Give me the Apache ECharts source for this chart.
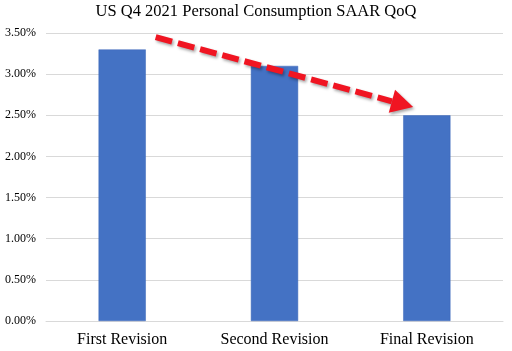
<!DOCTYPE html>
<html><head><meta charset="utf-8">
<script src="https://cdn.jsdelivr.net/npm/echarts@6/dist/echarts.min.js"></script>
<style>html,body{margin:0;padding:0;background:#fff}#c{width:512px;height:351px}</style>
</head><body><div id="c"></div>
<script>
const categories = ['First Revision', 'Second Revision', 'Final Revision'];
const values = [3.3, 3.1, 2.5];
const yTicks = [0, 0.5, 1, 1.5, 2, 2.5, 3, 3.5];
// arrow annotation in data space: [category position, value]
const arrowStart = [0.22, 3.45];
const arrowEnd = [1.91, 2.6];

const chart = echarts.init(document.getElementById('c'));
const serif = 'Liberation Serif';
chart.setOption({
  animation: false,
  title: { text: 'US Q4 2021 Personal Consumption SAAR QoQ', left: 'center', top: -2,
    textStyle: { fontFamily: serif, fontSize: 16.5, fontWeight: 'normal', color: '#000' } },
  grid: { left: 46, right: 9, top: 33, bottom: 30 },
  xAxis: { type: 'category', data: categories,
    axisLine: { lineStyle: { color: '#d9d9d9' } }, axisTick: { show: false },
    axisLabel: { fontFamily: serif, fontSize: 16, color: '#000', margin: 11 } },
  yAxis: { type: 'value', min: yTicks[0], max: yTicks[yTicks.length - 1], interval: 0.5,
    splitLine: { lineStyle: { color: '#d9d9d9' } },
    axisLabel: { fontFamily: serif, fontSize: 12, color: '#000', margin: 10,
      formatter: v => v.toFixed(2) + '%' } },
  series: [{ type: 'bar', data: values, barWidth: '31%',
    itemStyle: { color: '#4472C4', borderColor: '#3a66b8', borderWidth: 0.5 } }]
});

function toPx(p) {
  const a = chart.convertToPixel({ seriesIndex: 0 }, [0, 0]);
  const b = chart.convertToPixel({ seriesIndex: 0 }, [1, 0]);
  const y = chart.convertToPixel({ yAxisIndex: 0 }, p[1]);
  return [a[0] + (b[0] - a[0]) * p[0], y];
}
const s = toPx(arrowStart), e = toPx(arrowEnd);
const ang = Math.atan2(e[1] - s[1], e[0] - s[0]);
const headLen = 22, headW = 12;
const bx = e[0] - headLen * Math.cos(ang), by = e[1] - headLen * Math.sin(ang);
const nx = -Math.sin(ang), ny = Math.cos(ang);
const shadow = { shadowColor: 'rgba(0,0,0,0.35)', shadowBlur: 3, shadowOffsetX: 1.5, shadowOffsetY: 2 };
chart.setOption({
  graphic: [
    { type: 'line', shape: { x1: s[0], y1: s[1], x2: bx, y2: by },
      style: Object.assign({ stroke: '#f01522', lineWidth: 6, lineDash: [17, 6] }, shadow), z: 100 },
    { type: 'polygon', shape: { points: [[e[0], e[1]], [bx + nx * headW, by + ny * headW], [bx - nx * headW, by - ny * headW]] },
      style: Object.assign({ fill: '#f01522' }, shadow), z: 100 }
  ]
});
</script></body></html>
